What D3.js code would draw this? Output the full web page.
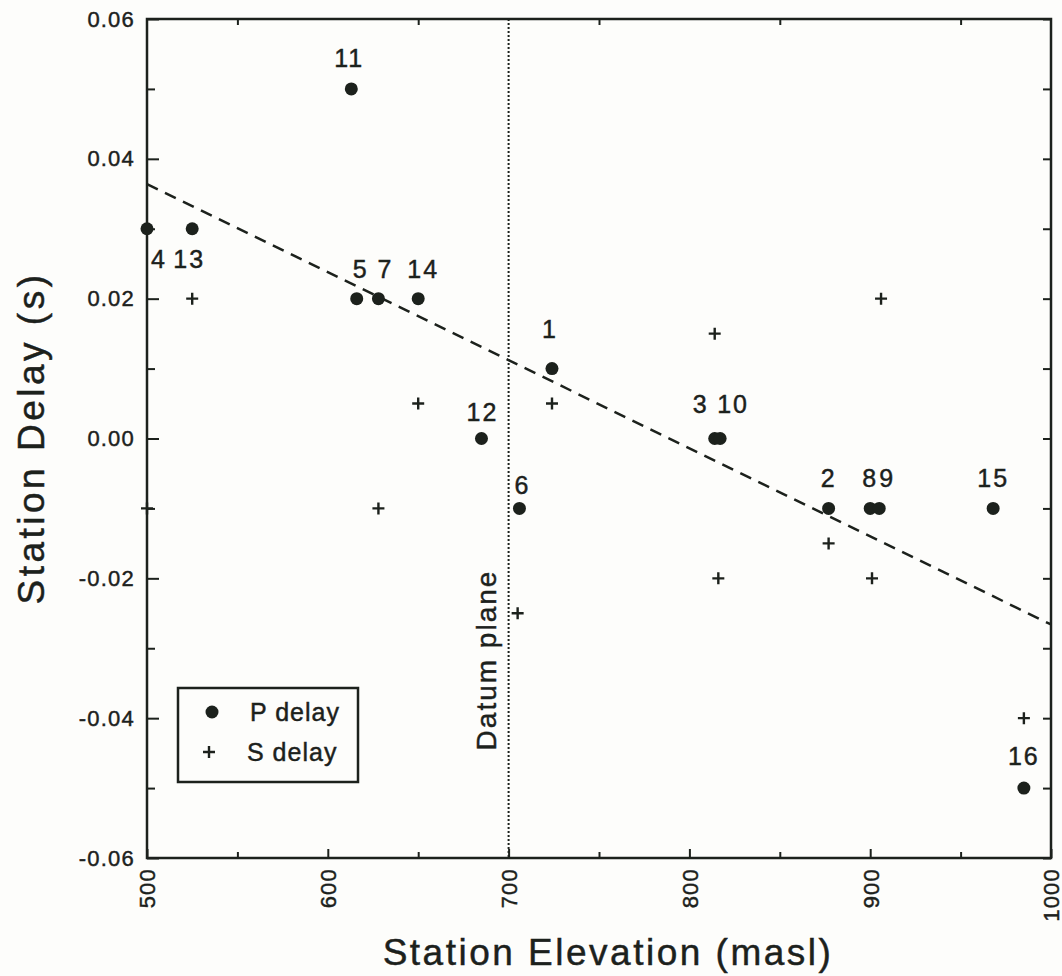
<!DOCTYPE html>
<html>
<head>
<meta charset="utf-8">
<script src="https://cdn.jsdelivr.net/npm/d3@7"></script>
<style>
  html, body { margin: 0; padding: 0; background: #fdfdfb; }
  svg { display: block; font-family: "Liberation Sans", Arial, Helvetica, sans-serif; }
  svg text { stroke: #1c211c; stroke-width: 0.45px; }
</style>
</head>
<body>
<svg id="chart" width="1062" height="976"></svg>
<script>
// Station labels and elevations (masl)
const stations   = ["1","2","3","4","5","6","7","8","9","10","11","12","13","14","15","16"];
const elevations = [724, 877, 814, 500, 616, 706, 628, 900, 905, 817, 613, 685, 525, 650, 968, 985];
// P-wave station delays (s)
const pDelay     = [0.01, -0.01, 0.00, 0.03, 0.02, -0.01, 0.02, -0.01, -0.01, 0.00, 0.05, 0.00, 0.03, 0.02, -0.01, -0.05];

// S-wave station delays: elevation (masl) and delay (s)
const sElevation = [500, 525, 628, 650, 705, 724, 814, 816, 877, 901, 906, 985];
const sDelay     = [-0.01, 0.02, -0.01, 0.005, -0.025, 0.005, 0.015, -0.02, -0.015, -0.02, 0.02, -0.04];

// Linear trend of delay with elevation (end points)
const trendElevation = [500, 1000];
const trendDelay     = [0.0364, -0.0266];

// Datum plane elevation
const datumElevation = 700;

// Axis ticks
const xTicksMajor = [500, 600, 700, 800, 900, 1000];
const xTicksMinor = [550, 650, 750, 850, 950];
const yTicksMajor = [0.06, 0.04, 0.02, 0.00, -0.02, -0.04, -0.06];
const yTicksMinor = [0.05, 0.03, 0.01, -0.01, -0.03, -0.05];
const yTickLabels = ["0.06", "0.04", "0.02", "0.00", "-0.02", "-0.04", "-0.06"];

// Label placement around each P point [dx, dy] in px (layout only)
const labelOffset = {
  "1": [-2, -31], "2": [0, -21], "3": [-14, -26], "4": [12, 39], "5": [4, -21],
  "6": [3, -14], "7": [7, -21], "8": [0, -21], "9": [8, -21], "10": [13, -26],
  "11": [-2, -22], "12": [1, -18], "13": [-3, 39], "14": [5, -21], "15": [0, -21], "16": [0, -23]
};

const ink = "#1c211c";
const svg = d3.select("#chart");
const mLeft = 147, mRight = 1051, mTop = 19, mBottom = 858;

const x = d3.scaleLinear().domain([500, 1000]).range([mLeft, mRight]);
const y = d3.scaleLinear().domain([-0.06, 0.06]).range([mBottom, mTop]);

// frame
svg.append("rect")
  .attr("x", mLeft).attr("y", mTop)
  .attr("width", mRight - mLeft).attr("height", mBottom - mTop)
  .attr("fill", "none").attr("stroke", ink).attr("stroke-width", 2.5);

function styleAxis(g) {
  g.select(".domain").remove();
  g.selectAll(".tick line").attr("stroke", ink).attr("stroke-width", 2);
}

// bottom axis: inward ticks, rotated labels
const xAxisG = svg.append("g").attr("transform", `translate(0,${mBottom})`)
  .call(d3.axisBottom(x).tickValues(xTicksMajor).tickSizeInner(-9).tickSizeOuter(0).tickFormat(d3.format("d")))
  .call(styleAxis);
xAxisG.selectAll(".tick text")
  .attr("fill", ink)
  .attr("font-size", 22)
  .attr("letter-spacing", 1.2)
  .attr("text-anchor", "end")
  .attr("transform", "rotate(-90)")
  .attr("x", -10).attr("y", 0).attr("dy", "0.36em");
svg.append("g").attr("transform", `translate(0,${mBottom})`)
  .call(d3.axisBottom(x).tickValues(xTicksMinor).tickSizeInner(-6).tickSizeOuter(0).tickFormat(""))
  .call(styleAxis);

// top axis: short inward ticks
svg.append("g").attr("transform", `translate(0,${mTop})`)
  .call(d3.axisTop(x).tickValues(xTicksMinor).tickSizeInner(-6).tickSizeOuter(0).tickFormat(""))
  .call(styleAxis);

// left axis: inward ticks with labels
const yAxisG = svg.append("g").attr("transform", `translate(${mLeft},0)`)
  .call(d3.axisLeft(y).tickValues(yTicksMajor).tickSizeInner(-12).tickSizeOuter(0)
    .tickFormat((d, i) => yTickLabels[i]))
  .call(styleAxis);
yAxisG.selectAll(".tick text")
  .attr("fill", ink).attr("font-size", 22).attr("letter-spacing", 1.2)
  .attr("x", -12);
svg.append("g").attr("transform", `translate(${mLeft},0)`)
  .call(d3.axisLeft(y).tickValues(yTicksMinor).tickSizeInner(-8).tickSizeOuter(0).tickFormat(""))
  .call(styleAxis);

// right axis: inward ticks every 0.01
svg.append("g").attr("transform", `translate(${mRight},0)`)
  .call(d3.axisRight(y).tickValues(yTicksMajor.concat(yTicksMinor)).tickSizeInner(-8).tickSizeOuter(0).tickFormat(""))
  .call(styleAxis);

svg.selectAll("g").attr("font-family", null);

// axis titles
svg.append("text")
  .attr("x", 608).attr("y", 965)
  .attr("text-anchor", "middle")
  .attr("font-size", 37).attr("letter-spacing", 2.5)
  .attr("fill", ink)
  .text("Station Elevation (masl)");
svg.append("text")
  .attr("transform", "translate(44,438) rotate(-90)")
  .attr("text-anchor", "middle")
  .attr("font-size", 37).attr("letter-spacing", 3.5)
  .attr("fill", ink)
  .text("Station Delay (s)");

// datum plane
svg.append("line")
  .attr("x1", x(datumElevation)).attr("x2", x(datumElevation))
  .attr("y1", mTop).attr("y2", mBottom)
  .attr("stroke", ink).attr("stroke-width", 2).attr("stroke-dasharray", "2,2");
svg.append("text")
  .attr("transform", `translate(${x(datumElevation) - 13},660) rotate(-90)`)
  .attr("text-anchor", "middle")
  .attr("font-size", 28).attr("letter-spacing", 2)
  .attr("fill", ink)
  .text("Datum plane");

// trend line
const trend = trendElevation.map((e, i) => [e, trendDelay[i]]);
svg.append("path")
  .datum(trend)
  .attr("d", d3.line().x(d => x(d[0])).y(d => y(d[1])))
  .attr("fill", "none").attr("stroke", ink).attr("stroke-width", 2.5)
  .attr("stroke-dasharray", "12,8");

// S delay crosses
svg.append("g").selectAll("path")
  .data(sElevation.map((e, i) => [e, sDelay[i]]))
  .join("path")
  .attr("transform", d => `translate(${x(d[0])},${y(d[1])})`)
  .attr("d", "M-6,0H6M0,-6V6")
  .attr("stroke", ink).attr("stroke-width", 2.4).attr("fill", "none");

// P delay dots
const pData = stations.map((s, i) => ({ s, e: elevations[i], d: pDelay[i] }));
svg.append("g").selectAll("circle")
  .data(pData)
  .join("circle")
  .attr("cx", d => x(d.e)).attr("cy", d => y(d.d))
  .attr("r", 6.5).attr("fill", ink);

// station labels
svg.append("g").selectAll("text")
  .data(pData)
  .join("text")
  .attr("x", d => x(d.e) + labelOffset[d.s][0])
  .attr("y", d => y(d.d) + labelOffset[d.s][1])
  .attr("text-anchor", "middle")
  .attr("font-size", 25).attr("letter-spacing", 2)
  .attr("fill", ink)
  .text(d => d.s);

// legend
const lg = svg.append("g");
lg.append("rect").attr("x", 178).attr("y", 688).attr("width", 180).attr("height", 94)
  .attr("fill", "none").attr("stroke", ink).attr("stroke-width", 2.5);
lg.append("circle").attr("cx", 212).attr("cy", 712).attr("r", 6.5).attr("fill", ink);
lg.append("path").attr("transform", "translate(209,752)").attr("d", "M-6,0H6M0,-6V6")
  .attr("stroke", ink).attr("stroke-width", 2.4);
lg.append("text").attr("x", 250).attr("y", 721).attr("font-size", 25).attr("letter-spacing", 1)
  .attr("fill", ink).text("P delay");
lg.append("text").attr("x", 247).attr("y", 761).attr("font-size", 25).attr("letter-spacing", 1)
  .attr("fill", ink).text("S delay");
</script>
</body>
</html>
